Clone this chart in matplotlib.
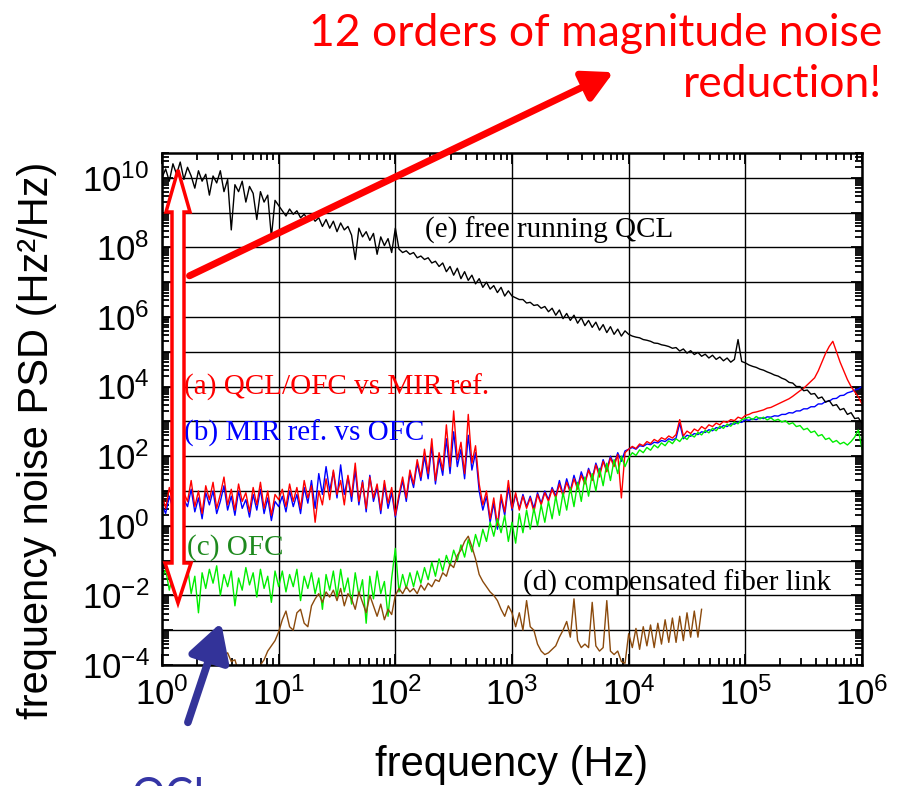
import numpy as np
import matplotlib
matplotlib.use("Agg")
import matplotlib.pyplot as plt
from matplotlib.ticker import LogLocator, FuncFormatter, NullFormatter
from matplotlib.patches import FancyArrowPatch, Polygon, Rectangle

plt.rcParams['font.family'] = ['Liberation Sans', 'DejaVu Sans']
plt.rcParams['mathtext.fontset'] = 'custom'
plt.rcParams['mathtext.rm'] = 'Liberation Sans'
plt.rcParams['mathtext.it'] = 'Liberation Sans:italic'

# log10 of frequency noise PSD, sampled 32 points per decade
f_main = np.logspace(0, 6, 193)
f_fiber = np.logspace(0.5, 4.625, 133)

psd_qcl_free = [10.0,
    10.25, 9.9, 10.4, 10.1, 10.45, 9.95, 10.3, 10.05, 9.7, 10.2, 9.9, 10.1, 9.5, 10.05, 9.85, 10.2,
    9.6, 9.95, 8.5, 9.8, 9.6, 9.9, 9.3, 9.75, 9.55, 8.8, 9.6, 9.3, 9.5, 8.3, 9.35, 9.2,
    9.05, 8.9, 9.1, 8.95, 9.05, 8.85, 8.95, 8.8, 8.9, 8.75, 8.85, 8.6, 8.8, 8.55, 8.75, 8.45,
    8.7, 8.5, 8.6, 8.35, 7.65, 8.55, 8.3, 8.45, 8.2, 8.4, 7.8, 8.3, 8.05, 8.25, 7.85, 8.55,
    7.95, 7.85, 7.9, 7.8, 7.85, 7.7, 7.75, 7.65, 7.7, 7.55, 7.6, 7.45, 7.55, 7.3, 7.45, 7.2,
    7.4, 7.1, 7.3, 7.05, 7.2, 6.95, 7.1, 6.85, 7.0, 6.8, 6.9, 6.7, 6.85, 6.6, 6.75, 6.6,
    6.55, 6.5, 6.5, 6.4, 6.42, 6.33, 6.35, 6.25, 6.3, 6.15, 6.25, 6.05, 6.2, 5.95, 6.1, 5.9,
    6.05, 5.82, 5.98, 5.75, 5.9, 5.7, 5.85, 5.62, 5.78, 5.55, 5.72, 5.5, 5.65, 5.45, 5.6, 5.5,
    5.45, 5.42, 5.4, 5.35, 5.33, 5.3, 5.25, 5.24, 5.2, 5.18, 5.15, 5.1, 5.12, 5.02, 5.08, 4.96,
    5.03, 4.92, 4.98, 4.87, 4.93, 4.82, 4.9, 4.78, 4.85, 4.74, 4.82, 4.7, 4.78, 5.35, 4.72, 4.68,
    4.62, 4.58, 4.55, 4.5, 4.47, 4.42, 4.38, 4.33, 4.3, 4.24, 4.2, 4.12, 4.1, 4.0, 4.0, 3.88,
    3.9, 3.78, 3.8, 3.66, 3.7, 3.55, 3.6, 3.45, 3.48, 3.33, 3.37, 3.2, 3.25, 3.08, 3.1, 2.95]

psd_qcl_ofc = [0.9,
    0.5, 1.1, 0.65, 1.2, 0.4, 0.95, 0.7, 1.3, 0.55, 1.0, 0.35, 1.15, 0.75, 1.25, 0.5, 0.9,
    1.4, 0.6, 1.05, 0.45, 1.2, 0.7, 0.95, 0.4, 1.1, 0.6, 1.25, 0.5, 1.0, 0.3, 0.9, 0.75,
    1.05, 0.55, 1.2, 0.7, 1.1, 0.5, 1.3, 0.8, 1.15, 0.1, 1.0, 0.6, 1.35, 0.75, 1.6, 0.9,
    1.3, 0.6, 1.45, 0.85, 1.8, 0.7, 1.25, 0.5, 1.4, 0.8, 1.2, 0.45, 1.3, 0.65, 1.1, 0.3,
    0.9, 1.4, 0.8, 1.6, 1.2, 1.9, 1.4, 2.2, 1.5, 2.5, 1.3, 2.1, 1.6, 2.9, 1.7, 3.3,
    1.9, 2.4, 1.5, 3.2, 1.8, 2.3, 1.2, 0.6, 1.0, 0.2, 0.8, 0.0, 0.9, 0.4, 1.3, 0.5,
    0.95, 0.45, 0.85, 0.5, 0.8, 0.4, 0.9, 0.6, 0.95, 0.7, 1.05, 0.8, 1.2, 0.85, 1.25, 0.95,
    1.35, 1.05, 1.45, 1.2, 1.6, 1.3, 1.75, 1.4, 1.85, 1.55, 1.95, 1.7, 2.05, 0.8, 2.1, 2.2,
    2.28, 2.22, 2.35, 2.3, 2.42, 2.36, 2.48, 2.42, 2.53, 2.48, 2.58, 2.52, 2.62, 3.05, 2.58, 2.72,
    2.65, 2.78, 2.72, 2.85, 2.78, 2.9, 2.85, 2.95, 2.9, 3.0, 2.97, 3.05, 3.02, 3.12, 3.08, 3.17,
    3.2, 3.25, 3.27, 3.3, 3.33, 3.38, 3.4, 3.45, 3.5, 3.55, 3.6, 3.65, 3.72, 3.8, 3.88, 3.95,
    4.05, 4.15, 4.25, 4.45, 4.7, 4.95, 5.15, 5.3, 5.0, 4.7, 4.45, 4.2, 4.0, 3.85, 3.7, 3.5]

psd_mir_ofc = [0.6,
    0.35, 0.85, 0.5, 1.0, 0.3, 0.75, 0.55, 1.05, 0.4, 0.8, 0.2, 0.95, 0.6, 1.0, 0.35, 0.7,
    1.15, 0.45, 0.85, 0.3, 1.0, 0.5, 0.75, 0.25, 0.9, 0.45, 1.05, 0.35, 0.8, 0.15, 0.7, 0.55,
    0.85, 0.4, 1.0, 0.55, 0.9, 0.35, 1.1, 0.65, 1.3, 0.5, 1.5, 0.9, 1.7, 1.0, 1.55, 0.8,
    1.75, 0.9, 1.4, 0.7, 1.6, 0.6, 1.3, 0.4, 1.45, 0.7, 1.1, 0.35, 1.2, 0.5, 0.95, 0.25,
    0.8, 1.3, 0.7, 1.5, 1.1, 1.8, 1.3, 2.0, 1.35, 2.3, 1.2, 1.95, 1.45, 2.5, 1.5, 2.7,
    1.7, 2.2, 1.35, 2.6, 1.6, 2.1, 1.0, 0.45, 0.85, 0.1, 0.65, -0.1, 0.8, 0.3, 1.1, 0.45,
    0.9, 0.5, 0.9, 0.55, 0.85, 0.5, 0.95, 0.65, 1.0, 0.75, 1.1, 0.85, 1.3, 0.9, 1.35, 1.0,
    1.45, 1.1, 1.55, 1.25, 1.65, 1.35, 1.8, 1.5, 1.9, 1.6, 2.0, 1.75, 2.1, 1.85, 2.15, 2.2,
    2.25, 2.2, 2.3, 2.28, 2.35, 2.33, 2.4, 2.38, 2.45, 2.42, 2.5, 2.46, 2.52, 2.95, 2.5, 2.6,
    2.57, 2.65, 2.62, 2.7, 2.68, 2.76, 2.73, 2.82, 2.8, 2.88, 2.85, 2.93, 2.92, 2.98, 2.97, 3.05,
    3.03, 3.07, 3.05, 3.1, 3.08, 3.13, 3.12, 3.16, 3.15, 3.2, 3.2, 3.25, 3.24, 3.3, 3.3, 3.36,
    3.36, 3.42, 3.42, 3.5, 3.5, 3.57, 3.58, 3.65, 3.66, 3.74, 3.75, 3.82, 3.85, 3.9, 3.93, 4.0]

psd_ofc = [-1.5,
    -1.25, -1.85, -1.4, -2.1, -1.3, -1.7, -1.2, -1.95, -1.45, -2.5, -1.35, -1.8, -1.25, -1.65, -1.15, -2.0,
    -1.4, -1.75, -1.3, -2.3, -1.5, -1.85, -1.2, -1.7, -1.35, -2.05, -1.25, -1.8, -1.45, -2.2, -1.3, -1.75,
    -1.3, -1.9, -1.4, -1.75, -1.25, -2.15, -1.45, -1.8, -1.35, -1.95, -1.5, -2.4, -1.4, -1.85, -1.3, -2.05,
    -1.25, -1.9, -1.5, -2.25, -1.35, -2.0, -1.55, -2.8, -1.45, -2.1, -1.3, -1.95, -1.6, -2.6, -1.5, -0.65,
    -1.9, -1.4, -1.8, -1.35, -1.75, -1.3, -1.65, -1.2, -1.55, -1.05, -1.45, -0.95, -1.3, -0.85, -1.15, -0.7,
    -1.0, -0.55, -0.9, -0.4, -0.75, -0.25, -0.6, -0.1, -0.45, 0.1, -0.3, 0.2, -0.2, 0.3, -0.45, 0.1,
    -0.5, 0.35, -0.2, 0.45, -0.1, 0.5, 0.0, 0.6, 0.1, 0.7, 0.2, 0.85, 0.3, 0.95, 0.45, 1.1,
    0.55, 1.25, 0.7, 1.4, 0.85, 1.5, 1.0, 1.65, 1.15, 1.8, 1.3, 1.9, 1.5, 2.0, 1.7, 1.95,
    2.1, 2.02, 2.18, 2.1, 2.25, 2.17, 2.32, 2.24, 2.38, 2.3, 2.44, 2.36, 2.5, 2.42, 2.56, 2.48,
    2.62, 2.55, 2.68, 2.61, 2.74, 2.67, 2.8, 2.73, 2.86, 2.8, 2.92, 2.86, 2.98, 2.93, 3.05, 3.08,
    3.12, 3.05, 3.14, 3.07, 3.12, 3.04, 3.1, 3.02, 3.06, 2.98, 3.02, 2.92, 2.96, 2.85, 2.88, 2.76,
    2.8, 2.68, 2.72, 2.58, 2.62, 2.48, 2.52, 2.4, 2.45, 2.35, 2.4, 2.32, 2.42, 2.55, 2.75, 2.2]

psd_fiber = [-3.8, -3.75, -3.65, -3.9, -3.85, -4.2, -4.5, -4.7, -4.6, -4.4, -4.2, -4.0, -3.85, -3.6, -3.45, -3.3, -3.05,
    -2.7, -2.45, -2.9, -3.0, -2.5, -2.4, -2.8, -2.9, -2.3, -2.1, -1.95, -2.2, -1.9, -2.05, -1.85, -2.15,
    -1.8, -2.3, -1.95, -2.1, -2.4, -1.9, -2.2, -2.5, -2.0, -2.3, -2.6, -2.25, -2.7, -2.4, -2.55, -2.0,
    -1.8, -1.95, -1.75, -1.9, -1.8, -1.95, -1.7, -1.85, -1.65, -1.75, -1.55, -1.6, -1.35, -1.45, -1.1, -1.2,
    -0.85, -0.7, -0.45, -0.3, -0.6, -0.95, -1.4, -1.6, -1.75, -1.9, -2.0, -2.15, -2.4, -2.6, -2.3, -2.5,
    -2.9, -2.5, -3.0, -2.15, -2.9, -3.0, -3.4, -3.6, -3.7, -3.65, -3.55, -3.45, -3.2, -3.0, -2.75, -3.2,
    -2.1, -3.3, -3.5, -3.4, -3.5, -2.2, -3.45, -3.6, -3.5, -2.15, -3.6, -3.7, -3.6, -3.9, -3.95, -3.1,
    -3.5, -2.95, -3.55, -2.9, -3.45, -2.85, -3.5, -2.8, -3.4, -2.7, -3.35, -2.65, -3.35, -2.6, -3.3, -2.5,
    -3.2, -2.45, -3.2, -2.4]

x_decades = [0, 1, 2, 3, 4, 5, 6]
y_decades = list(range(-4, 11))

W, H = 900, 786
fig = plt.figure(figsize=(9, 7.86), dpi=100)
ax = fig.add_axes([162 / W, 1 - 665 / H, 700 / W, 512 / H])

ax.plot(f_main, 10 ** np.array(psd_mir_ofc), color='#0000ff', lw=1.0, zorder=2)
ax.plot(f_main, 10 ** np.array(psd_qcl_ofc), color='#ff0000', lw=1.0, zorder=2.1)
ax.plot(f_main, 10 ** np.array(psd_ofc), color='#00ee00', lw=1.0, zorder=2.2)
ax.plot(f_fiber, 10 ** np.array(psd_fiber), color='#8b4a0c', lw=1.0, zorder=2.3)
ax.plot(f_main, 10 ** np.array(psd_qcl_free), color='black', lw=1.0, zorder=2.4)

ax.set_xscale('log')
ax.set_yscale('log')
ax.set_xlim(1, 1e6)
ax.set_ylim(1e-4, 10 ** 10.71)

ax.set_xticks([10.0 ** d for d in x_decades])
ax.set_yticks([10.0 ** d for d in y_decades])
ax.xaxis.set_minor_locator(LogLocator(base=10, subs=np.arange(2, 10), numticks=200))
ax.yaxis.set_minor_locator(LogLocator(base=10, subs=np.arange(2, 10), numticks=200))
ax.xaxis.set_minor_formatter(NullFormatter())
ax.yaxis.set_minor_formatter(NullFormatter())
ax.xaxis.set_major_formatter(FuncFormatter(lambda v, p: r'$10^{%d}$' % round(np.log10(v))))
ax.yaxis.set_major_formatter(FuncFormatter(
    lambda v, p: r'$10^{%d}$' % round(np.log10(v)) if round(np.log10(v)) % 2 == 0 else ''))
ax.tick_params(which='both', direction='in', top=True, right=True, labelsize=25, width=1.3)
ax.tick_params(which='major', length=8, pad=9)
ax.tick_params(which='minor', length=5)
for s in ax.spines.values():
    s.set_linewidth(1.8)
ax.grid(True, which='major', color='black', lw=1.0)

# white label boxes hiding the grid
boxes = [(0.349, 0.805, 0.41, 0.086), (0.029, 0.498, 0.461, 0.094), (0.029, 0.416, 0.371, 0.082),
         (0.029, 0.195, 0.16, 0.088), (0.476, 0.123, 0.521, 0.078)]
for bx, by, bw, bh in boxes:
    ax.add_patch(Rectangle((bx, by), bw, bh, transform=ax.transAxes, facecolor='white',
                           edgecolor='none', zorder=1.5))

serif = ['Liberation Serif', 'DejaVu Serif']
ax.text(0.376, 0.848, '(e) free running QCL', transform=ax.transAxes, family=serif,
        fontsize=21, va='center', color='black', zorder=5)
ax.text(0.031, 0.543, '(a) QCL/OFC vs MIR ref.', transform=ax.transAxes, family=serif,
        fontsize=21, va='center', color='#ff0000', zorder=5)
ax.text(0.031, 0.453, '(b) MIR ref. vs OFC', transform=ax.transAxes, family=serif,
        fontsize=21, va='center', color='#0000ff', zorder=5)
ax.text(0.036, 0.230, '(c) OFC', transform=ax.transAxes, family=serif,
        fontsize=21, va='center', color='#1e8a1e', zorder=5)
ax.text(0.516, 0.160, '(d) compensated fiber link', transform=ax.transAxes, family=serif,
        fontsize=21, va='center', color='black', zorder=5)

fig.text(37 / W, 1 - 440 / H, 'frequency noise PSD (Hz²/Hz)', rotation=90,
         ha='center', va='center', fontsize=30)
fig.text(512 / W, 1 - 765 / H, 'frequency (Hz)', ha='center', va='center', fontsize=30)

# annotations
def fp(x, y):
    return (x / W, 1 - y / H)

fig.text(882 / W, 1 - 46 / H, '12 orders of magnitude noise', ha='right', va='baseline',
         fontsize=32, color='#ff0000', family=['Lato', 'DejaVu Sans'])
fig.text(882 / W, 1 - 97 / H, 'reduction!', ha='right', va='baseline',
         fontsize=32, color='#ff0000', family=['Lato', 'DejaVu Sans'])

fig.add_artist(FancyArrowPatch(fp(187, 277), fp(616, 71), transform=fig.transFigure,
                               arrowstyle='-|>,head_length=0.75,head_width=0.4',
                               mutation_scale=24, lw=5, color='#ff0000', zorder=10))
fig.add_artist(FancyArrowPatch(fp(187, 725), fp(222, 620), transform=fig.transFigure,
                               arrowstyle='-|>,head_length=0.8,head_width=0.45',
                               mutation_scale=28, lw=5.5, color='#333399', zorder=10))

arrow_pts = [(178, 170), (190, 212), (184, 212), (184, 563), (191, 563), (178, 603),
             (165, 563), (172, 563), (172, 212), (166, 212)]
fig.add_artist(Polygon([fp(x, y) for x, y in arrow_pts], closed=True, transform=fig.transFigure,
                       facecolor='white', edgecolor='#ff0000', lw=2.5, zorder=10))

fig.text(132 / W, 1 - 777 / H, 'QCL', ha='left', va='top', fontsize=30, color='#3535a5',
         family=['Lato', 'DejaVu Sans'])

fig.savefig('out.png', dpi=100)
